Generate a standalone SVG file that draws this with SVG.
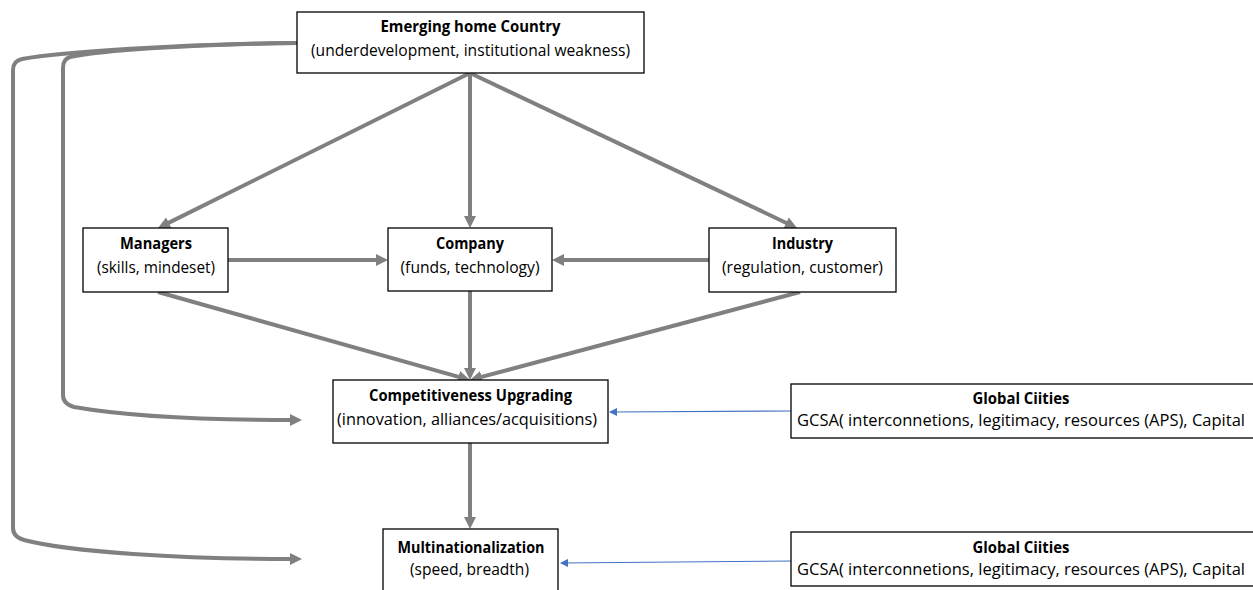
<svg xmlns="http://www.w3.org/2000/svg" width="1253" height="590" viewBox="0 0 1253 590">
  <style>
    .box { fill: #ffffff; stroke: #000000; stroke-width: 1.3; }
    .t { font-family: "Open Sans", "Liberation Sans", sans-serif; font-size: 15.5px; fill: #000000; text-anchor: middle; }
    .b { font-weight: bold; }
    .flow { fill: none; stroke: #808080; stroke-width: 4; marker-end: url(#grey-head); }
    .link { fill: none; stroke: #4472C4; stroke-width: 1.2; marker-end: url(#blue-head); }
  </style>
  <defs>
    <marker id="grey-head" markerUnits="userSpaceOnUse" markerWidth="12" markerHeight="12" refX="2" refY="6" orient="auto">
      <path d="M0,0 L12,6 L0,12 z" fill="#808080"/>
    </marker>
    <marker id="blue-head" markerUnits="userSpaceOnUse" markerWidth="8" markerHeight="8" refX="7" refY="4" orient="auto">
      <path d="M0,0 L8,4 L0,8 z" fill="#4472C4"/>
    </marker>
  </defs>

  <!-- connectors -->
  <g id="connectors">
    <!-- home country feedback loops -->
    <path class="flow" d="M297,43 C190,44 100,51 70,57 Q63,59 63,68 L63,395 Q63,404 74,407 C120,415 200,420 292,420"/>
    <path class="flow" d="M297,43 C180,44 60,52 22,59 Q13,61 13,70 L13,528 Q13,537 24,540 C70,552 180,559 292,559"/>
    <!-- home country to actors -->
    <line class="flow" x1="470" y1="73" x2="167" y2="223.6"/>
    <line class="flow" x1="470" y1="73" x2="470" y2="218"/>
    <line class="flow" x1="470" y1="73" x2="788" y2="223.7"/>
    <!-- actors to company -->
    <line class="flow" x1="228" y1="260" x2="378" y2="260"/>
    <line class="flow" x1="709" y1="260" x2="562" y2="260"/>
    <!-- actors to upgrading -->
    <line class="flow" x1="158" y1="292" x2="460.4" y2="377.3"/>
    <line class="flow" x1="470" y1="291" x2="470" y2="370"/>
    <line class="flow" x1="800" y1="292" x2="479.7" y2="377.4"/>
    <!-- upgrading to multinationalization -->
    <line class="flow" x1="470" y1="443" x2="470" y2="519"/>
    <!-- global cities -->
    <line class="link" x1="792" y1="411" x2="610" y2="412"/>
    <line class="link" x1="792" y1="561" x2="561" y2="563"/>
  </g>

  <g id="home-country">
    <rect class="box" x="297" y="12" width="347" height="61"/>
    <text class="t b" x="470.5" y="32" textLength="180" lengthAdjust="spacingAndGlyphs">Emerging home Country</text>
    <text class="t" x="470.5" y="56" textLength="319" lengthAdjust="spacingAndGlyphs">(underdevelopment, institutional weakness)</text>
  </g>

  <g id="managers">
    <rect class="box" x="83" y="228" width="145" height="64"/>
    <text class="t b" x="156" y="249" textLength="72" lengthAdjust="spacingAndGlyphs">Managers</text>
    <text class="t" x="156" y="273" textLength="118" lengthAdjust="spacingAndGlyphs">(skills, mindeset)</text>
  </g>

  <g id="company">
    <rect class="box" x="388" y="228" width="164" height="63"/>
    <text class="t b" x="470" y="249" textLength="68" lengthAdjust="spacingAndGlyphs">Company</text>
    <text class="t" x="470" y="273" textLength="139" lengthAdjust="spacingAndGlyphs">(funds, technology)</text>
  </g>

  <g id="industry">
    <rect class="box" x="709" y="228" width="187" height="64"/>
    <text class="t b" x="802.5" y="249" textLength="61" lengthAdjust="spacingAndGlyphs">Industry</text>
    <text class="t" x="802.5" y="273" textLength="161" lengthAdjust="spacingAndGlyphs">(regulation, customer)</text>
  </g>

  <g id="upgrading">
    <rect class="box" x="333" y="380" width="275" height="63"/>
    <text class="t b" x="470.5" y="401" textLength="203" lengthAdjust="spacingAndGlyphs">Competitiveness Upgrading</text>
    <text class="t" x="467" y="425" textLength="260" lengthAdjust="spacingAndGlyphs">(innovation, alliances/acquisitions)</text>
  </g>

  <g id="multinationalization">
    <rect class="box" x="383" y="529" width="175" height="70"/>
    <text class="t b" x="471" y="553" textLength="147" lengthAdjust="spacingAndGlyphs">Multinationalization</text>
    <text class="t" x="469.5" y="575" textLength="119" lengthAdjust="spacingAndGlyphs">(speed, breadth)</text>
  </g>

  <g id="global-cities-1">
    <rect class="box" x="791" y="384" width="470" height="54"/>
    <text class="t b" x="1021" y="404" textLength="97" lengthAdjust="spacingAndGlyphs">Global Ciities</text>
    <text class="t" x="1021" y="426" textLength="448" lengthAdjust="spacingAndGlyphs">GCSA( interconnetions, legitimacy, resources (APS), Capital</text>
  </g>

  <g id="global-cities-2">
    <rect class="box" x="791" y="532" width="470" height="54"/>
    <text class="t b" x="1021" y="553" textLength="97" lengthAdjust="spacingAndGlyphs">Global Ciities</text>
    <text class="t" x="1021" y="575" textLength="448" lengthAdjust="spacingAndGlyphs">GCSA( interconnetions, legitimacy, resources (APS), Capital</text>
  </g>
</svg>
